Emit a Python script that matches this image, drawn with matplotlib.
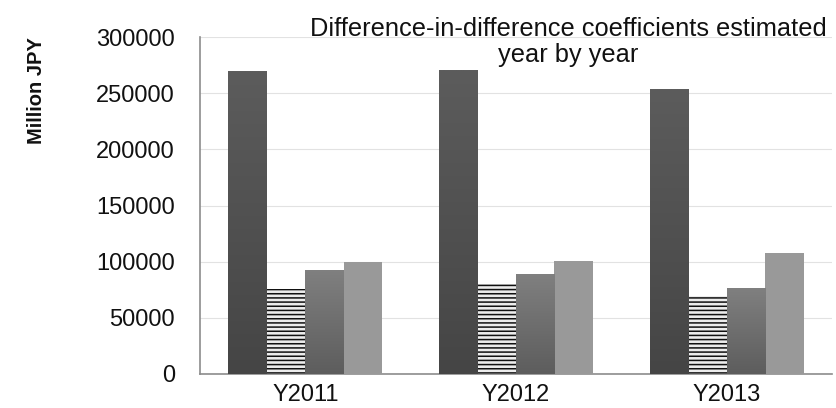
import numpy as np
import matplotlib
matplotlib.use("Agg")
import matplotlib.pyplot as plt
from matplotlib import font_manager
from matplotlib.colors import LinearSegmentedColormap

names = {f.name for f in font_manager.fontManager.ttflist}
FONT = ['Liberation Sans Narrow', 'Liberation Sans', 'DejaVu Sans']
FONT = [f for f in FONT if f in names] or ['DejaVu Sans']
plt.rcParams['font.family'] = FONT
plt.rcParams['hatch.linewidth'] = 1.1

categories = ['Y2011', 'Y2012', 'Y2013']
series1 = [269700, 270600, 253700]
series2 = [75400, 80100, 69400]
series3 = [92600, 89300, 76800]
series4 = [100000, 100300, 107400]
yticks = [0, 50000, 100000, 150000, 200000, 250000, 300000]
title = 'Difference-in-difference coefficients estimated\nyear by year'
ylabel = 'Million JPY'

fig = plt.figure(figsize=(8.36, 4.08), dpi=100)
ax = fig.add_axes([200/836, 1-374/408, 632/836, 337/408])

x = np.arange(len(categories))
w = 0.1825
offs = [-1.5, -0.5, 0.5, 1.5]

grads = [('#5c5c5c', '#454545'), None, ('#808080', '#5d5d5d'), None]
flat = ['#505050', '#ececec', '#6e6e6e', '#999999']
all_series = [series1, series2, series3, series4]

for i, (vals, off) in enumerate(zip(all_series, offs)):
    if i == 1:
        bars = ax.bar(x + off*w, vals, w, facecolor=flat[i], edgecolor='#111111',
                      linewidth=0, hatch='----', zorder=3)
    else:
        bars = ax.bar(x + off*w, vals, w, color=flat[i], linewidth=0, zorder=3)
    if grads[i] is not None:
        cmap = LinearSegmentedColormap.from_list('g%d' % i, [grads[i][1], grads[i][0]])
        for b in bars:
            x0, y0 = b.get_x(), b.get_y()
            grad = np.linspace(0, 1, 256).reshape(-1, 1)
            im = ax.imshow(grad, extent=[x0, x0 + b.get_width(), y0, y0 + b.get_height()],
                           origin='lower', aspect='auto', cmap=cmap, zorder=3.5)
            im.set_clip_path(b)

ax.set_xlim(-0.5, 2.5)
ax.set_ylim(0, 300000)
ax.set_yticks(yticks)
ax.set_yticklabels([str(v) for v in yticks])
ax.set_xticks(x)
ax.set_xticklabels(categories)
ax.tick_params(axis='both', labelsize=17, colors='#111111', length=0)
ax.tick_params(axis='y', pad=18)
ax.tick_params(axis='x', pad=7)
ax.grid(axis='y', color='#e2e2e2', linewidth=0.8, zorder=0)
ax.set_axisbelow(True)
for s in ['top', 'right']:
    ax.spines[s].set_visible(False)
for s in ['left', 'bottom']:
    ax.spines[s].set_color('#8c8c8c')
    ax.spines[s].set_linewidth(1.2)

fig.text(568/836, 1-42/408, title, ha='center', va='center', fontsize=18.3,
         color='#111111', linespacing=1.08)
fig.text(36/836, 1-91/408, ylabel, rotation=90, ha='center', va='center',
         fontsize=14.5, fontweight='bold', color='#111111')

fig.savefig('out.png', dpi=100)
